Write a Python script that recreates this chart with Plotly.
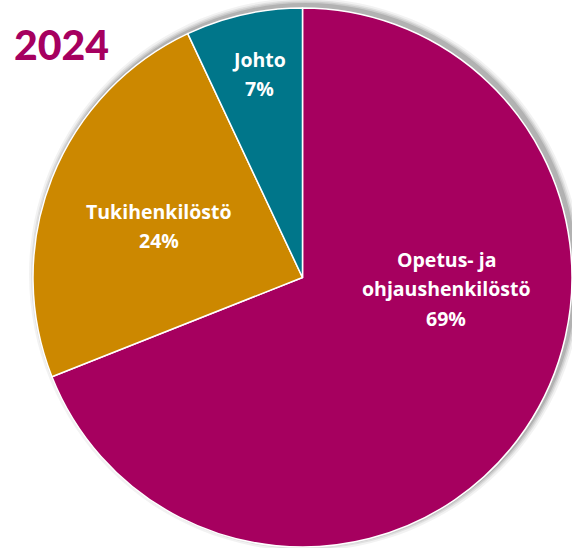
import plotly.graph_objects as go

title_text = "2024"
categories = ["Opetus- ja ohjaushenkilöstö", "Tukihenkilöstö", "Johto"]
label_lines = [["Opetus- ja", "ohjaushenkilöstö"], ["Tukihenkilöstö"], ["Johto"]]
values = [69, 24, 7]
colors = ["#A6005F", "#CC8800", "#00768A"]

W, H = 572, 548
cx, cy, r = 302.5, 277.5, 269.5

fig = go.Figure()
fig.add_trace(go.Pie(
    labels=categories, values=values, sort=False, direction="clockwise", rotation=0,
    marker=dict(colors=colors, line=dict(color="white", width=1.5)),
    textinfo="none", hoverinfo="label+percent", showlegend=False,
    domain=dict(x=[(cx - r) / W, (cx + r) / W], y=[(H - cy - r) / H, (H - cy + r) / H]),
))

# soft shadow behind pie (offset right/up)
shapes = []
for grow, a in [(7, 0.05), (5, 0.07), (3.5, 0.09), (2, 0.12)]:
    ox, oy = 3, -3
    shapes.append(dict(type="circle", xref="paper", yref="paper", layer="below",
                       x0=(cx + ox - r - grow) / W, x1=(cx + ox + r + grow) / W,
                       y0=(H - (cy + oy) - r - grow) / H, y1=(H - (cy + oy) + r + grow) / H,
                       fillcolor=f"rgba(0,0,0,{a})", line=dict(width=0)))

# label anchor: (x center, y of first line), line spacing in px
label_pos = [(446, 259), (159, 211), (259, 59)]
line_gap = 29.5
font_lbl = dict(family="'Open Sans', 'Noto Sans', sans-serif", size=19.5, color="white", weight="bold")
annotations = []
for lines, v, (px, py) in zip(label_lines, values, label_pos):
    for i, t in enumerate(lines + [f"{v}%"]):
        annotations.append(dict(text=t, x=px / W, y=1 - (py + i * line_gap) / H, xref="paper", yref="paper",
                                xanchor="center", yanchor="middle", showarrow=False, font=font_lbl))
annotations.append(dict(text=title_text, x=12 / W, y=1 - 45 / H, xref="paper", yref="paper",
                        xanchor="left", yanchor="middle", showarrow=False,
                        font=dict(family="Lato, 'Open Sans', sans-serif", size=41, color="#A6005F", weight=900)))

fig.update_layout(width=W, height=H, margin=dict(l=0, r=0, t=0, b=0),
                  paper_bgcolor="white", plot_bgcolor="white",
                  shapes=shapes, annotations=annotations)
fig.write_html("out.html", config={"displayModeBar": False})

with open("out.html", "r", encoding="utf-8") as f:
    html = f.read()
html = html.replace("<head>", "<head><style>html,body{margin:0;padding:0;overflow:hidden;}</style>", 1)
with open("out.html", "w", encoding="utf-8") as f:
    f.write(html)
